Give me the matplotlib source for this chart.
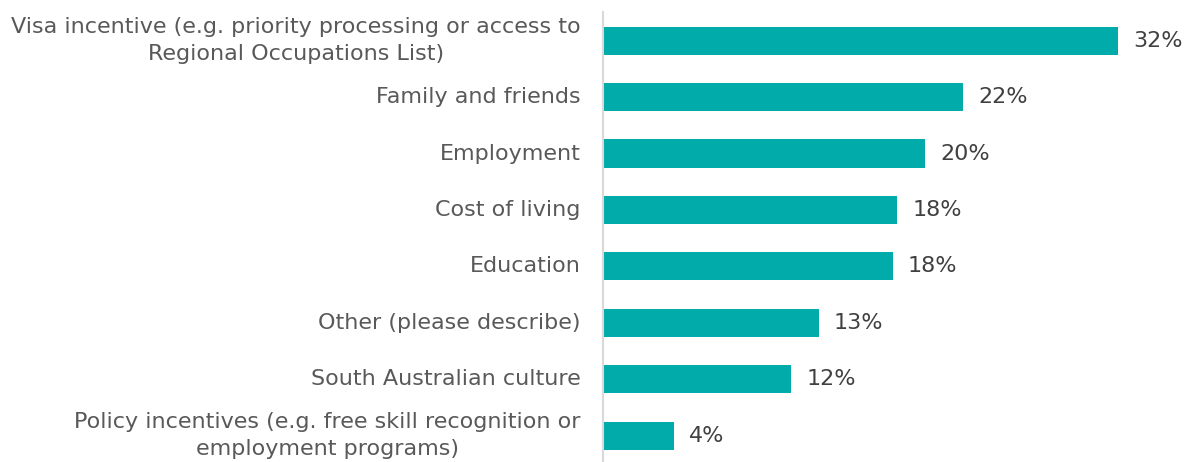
import matplotlib.pyplot as plt

# Reasons for choosing to live in South Australia (% of respondents)
reasons = [
    "Visa incentive (e.g. priority processing or access to\nRegional Occupations List)",
    "Family and friends",
    "Employment",
    "Cost of living",
    "Education",
    "Other (please describe)",
    "South Australian culture",
    "Policy incentives (e.g. free skill recognition or\nemployment programs)",
]
shares = [32.0, 22.4, 20.0, 18.3, 18.0, 13.4, 11.7, 4.4]

bar_color = "#00ABAA"
text_color = "#595959"

plt.rcParams["font.family"] = ["DejaVu Sans"]

fig = plt.figure(figsize=(11.93, 4.62), dpi=100)
ax = fig.add_axes([603 / 1193, -0.004, 590 / 1193, 0.977])

ypos = list(range(len(reasons)))
bars = ax.barh(ypos, shares, height=0.5, color=bar_color)
ax.set_ylim(len(reasons) - 0.5, -0.5)
ax.set_xlim(0, 590 / 16.09)

ax.bar_label(bars, labels=[f"{v:.0f}%" for v in shares], padding=11,
             fontsize=16, color="#404040")

ax.set_yticks(ypos)
ax.set_yticklabels(reasons, fontsize=16, color=text_color, va="center",
                   multialignment="center", linespacing=1.4)
ax.tick_params(axis="y", length=0, pad=16)
ax.set_xticks([])

for side in ["top", "right", "bottom"]:
    ax.spines[side].set_visible(False)
ax.spines["left"].set_color("#D9D9D9")
ax.spines["left"].set_linewidth(1.5)

fig.savefig("out.png", dpi=100)
